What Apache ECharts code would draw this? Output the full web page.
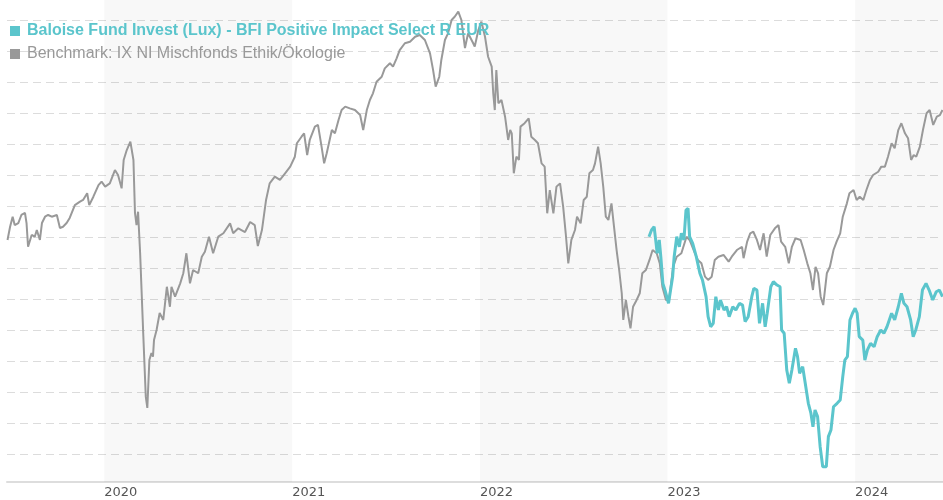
<!DOCTYPE html>
<html>
<head>
<meta charset="utf-8">
<script src="https://cdn.jsdelivr.net/npm/echarts@6/dist/echarts.min.js"></script>
<style>
  html, body { margin: 0; padding: 0; background: #fff; }
  #chart { width: 943px; height: 500px; }
</style>
</head>
<body>
<div id="chart"></div>
<script>
// Fondsvergleich: Fonds vs. Benchmark (indexiert)
var fundName = 'Baloise Fund Invest (Lux) - BFI Positive Impact Select R EUR';
var benchName = 'Benchmark: IX NI Mischfonds Ethik/Ökologie';

var benchDates = [
    '2019-06-27', '2019-07-02', '2019-07-07', '2019-07-11', '2019-07-18', '2019-07-24', '2019-07-31', '2019-08-03', '2019-08-06', '2019-08-13',
    '2019-08-19', '2019-08-23', '2019-08-29', '2019-09-02', '2019-09-08', '2019-09-14', '2019-09-21', '2019-10-01', '2019-10-07', '2019-10-13',
    '2019-10-20', '2019-10-26', '2019-11-05', '2019-11-15', '2019-11-21', '2019-11-29', '2019-12-03', '2019-12-11', '2019-12-21', '2019-12-27',
    '2020-01-03', '2020-01-12', '2020-01-22', '2020-01-28', '2020-02-04', '2020-02-08', '2020-02-14', '2020-02-21', '2020-02-27', '2020-03-01',
    '2020-03-04', '2020-03-07', '2020-03-11', '2020-03-17', '2020-03-22', '2020-03-25', '2020-03-29', '2020-04-02', '2020-04-05', '2020-04-07',
    '2020-04-12', '2020-04-18', '2020-04-25', '2020-05-02', '2020-05-08', '2020-05-11', '2020-05-18', '2020-05-28', '2020-06-03', '2020-06-09',
    '2020-06-16', '2020-06-22', '2020-07-02', '2020-07-09', '2020-07-15', '2020-07-23', '2020-07-31', '2020-08-10', '2020-08-20', '2020-09-02',
    '2020-09-08', '2020-09-18', '2020-10-01', '2020-10-11', '2020-10-20', '2020-10-26', '2020-11-03', '2020-11-11', '2020-11-18', '2020-11-28',
    '2020-12-08', '2020-12-18', '2020-12-28',
    '2021-01-06', '2021-01-10', '2021-01-19', '2021-01-24', '2021-01-30', '2021-02-04', '2021-02-14', '2021-02-20', '2021-02-27', '2021-03-04',
    '2021-03-09', '2021-03-19', '2021-03-25', '2021-04-01', '2021-04-07', '2021-04-14', '2021-04-23', '2021-05-03', '2021-05-13', '2021-05-19',
    '2021-05-26', '2021-06-01', '2021-06-07', '2021-06-14', '2021-06-24', '2021-06-30', '2021-07-10', '2021-07-16', '2021-07-23', '2021-07-29',
    '2021-08-08', '2021-08-18', '2021-08-28', '2021-09-06', '2021-09-16', '2021-09-26', '2021-10-02', '2021-10-07', '2021-10-14', '2021-10-18',
    '2021-10-25', '2021-10-31', '2021-11-07', '2021-11-13', '2021-11-20', '2021-11-26', '2021-12-03', '2021-12-09', '2021-12-19', '2021-12-22',
    '2021-12-29',
    '2022-01-04', '2022-01-11', '2022-01-17', '2022-01-24', '2022-01-27', '2022-01-30', '2022-02-02', '2022-02-06', '2022-02-12', '2022-02-19',
    '2022-02-25', '2022-03-01', '2022-03-04', '2022-03-08', '2022-03-13', '2022-03-18', '2022-03-21', '2022-03-29', '2022-04-06', '2022-04-11',
    '2022-04-18', '2022-04-24', '2022-05-01', '2022-05-07', '2022-05-12', '2022-05-17', '2022-05-24', '2022-05-30', '2022-06-06', '2022-06-12',
    '2022-06-17', '2022-06-22', '2022-06-28', '2022-07-05', '2022-07-09', '2022-07-16', '2022-07-22', '2022-07-28', '2022-08-02', '2022-08-09',
    '2022-08-13', '2022-08-19', '2022-08-24', '2022-08-29', '2022-09-03', '2022-09-08', '2022-09-14', '2022-09-19', '2022-09-24', '2022-09-29',
    '2022-10-04', '2022-10-07', '2022-10-12', '2022-10-17', '2022-10-21', '2022-10-26', '2022-11-02', '2022-11-08', '2022-11-13', '2022-11-20',
    '2022-11-27', '2022-12-03', '2022-12-11', '2022-12-17', '2022-12-22', '2022-12-29',
    '2023-01-04', '2023-01-12', '2023-01-19', '2023-01-28', '2023-02-07', '2023-02-13', '2023-02-23', '2023-03-01', '2023-03-08', '2023-03-15',
    '2023-03-21', '2023-03-28', '2023-04-03', '2023-04-10', '2023-04-20', '2023-04-30', '2023-05-06', '2023-05-16', '2023-05-26', '2023-05-29',
    '2023-06-05', '2023-06-11', '2023-06-17', '2023-06-24', '2023-06-30', '2023-07-07', '2023-07-13', '2023-07-20', '2023-07-29', '2023-08-05',
    '2023-08-10', '2023-08-18', '2023-08-25', '2023-08-31', '2023-09-07', '2023-09-17', '2023-09-23', '2023-09-30', '2023-10-06', '2023-10-11',
    '2023-10-16', '2023-10-21', '2023-10-26', '2023-10-31', '2023-11-07', '2023-11-13', '2023-11-20', '2023-11-26', '2023-12-03', '2023-12-08',
    '2023-12-16', '2023-12-21', '2023-12-29',
    '2024-01-04', '2024-01-10', '2024-01-17', '2024-01-23', '2024-01-30', '2024-02-05', '2024-02-15', '2024-02-21', '2024-02-28', '2024-03-05',
    '2024-03-12', '2024-03-18', '2024-03-25', '2024-03-31', '2024-04-07', '2024-04-13', '2024-04-19', '2024-04-24', '2024-04-29', '2024-05-06',
    '2024-05-12', '2024-05-19', '2024-05-25', '2024-06-01', '2024-06-08', '2024-06-14', '2024-06-19'
];

var benchValues = [
    99.81, 100.66, 101.31, 100.77, 100.90, 101.42, 101.55, 100.90, 99.37, 100.13,
    100.02, 100.45, 99.81, 100.90, 101.31, 101.42, 101.31, 101.42, 100.58, 100.66,
    100.90, 101.23, 102.06, 102.28, 102.39, 102.82, 102.06, 102.60, 103.35, 103.57,
    103.25, 103.46, 104.32, 104.00, 103.14, 104.97, 105.61, 106.15, 104.97, 101.55,
    100.77, 101.63, 98.97, 93.81, 89.70, 88.97, 92.06, 92.52, 92.28, 93.35,
    94.00, 95.10, 94.65, 96.79, 95.50, 96.79, 96.15, 97.01, 97.66, 98.95,
    97.01, 97.87, 97.66, 98.73, 99.05, 100.02, 98.95, 100.02, 100.24, 100.88,
    100.24, 100.56, 100.32, 100.97, 100.77, 99.42, 100.45, 102.39, 103.46, 103.89,
    103.68, 104.11, 104.54,
    105.18, 106.05, 106.47, 106.69, 105.29, 106.26, 107.12, 107.23, 105.83, 104.75,
    105.40, 106.90, 106.69, 107.55, 108.19, 108.41, 108.30, 108.19, 107.87, 106.90,
    108.19, 108.84, 109.27, 110.02, 110.34, 110.88, 111.21, 110.99, 111.53, 112.06,
    112.50, 112.60, 112.92, 113.03, 112.71, 111.85, 110.77, 109.70, 110.34, 111.42,
    112.71, 113.14, 114.00, 114.21, 114.54, 114.00, 112.19, 113.14, 112.50, 112.28,
    113.35,
    113.89, 112.92, 111.63, 110.99, 109.27, 108.19, 110.77, 108.63, 108.84, 107.76,
    106.26, 106.90, 106.69, 104.11, 105.18, 104.97, 107.12, 107.34, 107.66, 106.47,
    106.26, 106.05, 104.75, 104.54, 101.53, 103.03, 101.53, 103.25, 103.46, 101.96,
    100.24, 98.30, 99.81, 100.45, 101.31, 100.88, 102.39, 102.60, 104.11, 104.32,
    104.75, 105.83, 104.75, 103.25, 101.31, 101.10, 102.17, 100.66, 99.16, 97.87,
    96.37, 94.65, 95.94, 94.86, 94.11, 95.50, 95.94, 96.37, 97.66, 97.87,
    98.52, 99.16, 98.95, 98.30, 96.79, 95.94,
    95.94, 98.08, 98.73, 98.95, 100.02, 99.81, 98.97, 98.52, 98.30, 97.44,
    97.23, 97.44, 98.52, 98.73, 98.84, 98.41, 98.73, 99.16, 99.37, 98.63,
    99.70, 100.24, 100.34, 99.81, 99.16, 100.24, 98.73, 100.13, 100.56, 100.77,
    99.70, 99.37, 98.30, 99.37, 99.92, 99.81, 99.16, 98.30, 97.66, 96.58,
    98.08, 97.66, 96.15, 95.61, 97.66, 98.08, 99.16, 99.70, 100.24, 101.31,
    102.17, 102.82, 103.03,
    102.39, 102.60, 102.39, 103.03, 103.68, 104.00, 104.21, 104.54, 104.54, 105.18,
    106.05, 105.72, 106.90, 107.34, 106.69, 106.37, 104.97, 105.29, 105.18, 105.83,
    106.90, 107.98, 108.19, 107.23, 107.76, 107.87, 108.19
];

var fundDates = [
    '2022-11-26', '2022-12-01', '2022-12-06', '2022-12-09', '2022-12-12', '2022-12-16', '2022-12-19', '2022-12-23', '2022-12-27',
    '2023-01-03', '2023-01-07', '2023-01-11', '2023-01-14', '2023-01-19', '2023-01-24', '2023-01-28', '2023-02-02', '2023-02-06', '2023-02-10',
    '2023-02-13', '2023-02-19', '2023-02-26', '2023-03-05', '2023-03-10', '2023-03-17', '2023-03-21', '2023-03-26', '2023-03-31', '2023-04-05',
    '2023-04-10', '2023-04-14', '2023-04-21', '2023-04-26', '2023-05-01', '2023-05-08', '2023-05-14', '2023-05-21', '2023-05-27', '2023-06-01',
    '2023-06-07', '2023-06-14', '2023-06-18', '2023-06-24', '2023-06-29', '2023-07-05', '2023-07-10', '2023-07-14', '2023-07-21', '2023-07-26',
    '2023-08-02', '2023-08-08', '2023-08-11', '2023-08-16', '2023-08-21', '2023-08-26', '2023-08-31', '2023-09-07', '2023-09-11', '2023-09-15',
    '2023-09-21', '2023-09-26', '2023-10-02', '2023-10-07', '2023-10-11', '2023-10-15', '2023-10-20', '2023-10-25', '2023-10-30', '2023-11-06',
    '2023-11-10', '2023-11-15', '2023-11-20', '2023-11-27', '2023-12-03', '2023-12-08', '2023-12-12', '2023-12-17', '2023-12-22', '2023-12-27',
    '2024-01-01', '2024-01-05', '2024-01-09', '2024-01-16', '2024-01-20', '2024-01-25', '2024-01-31', '2024-02-07', '2024-02-13', '2024-02-20',
    '2024-02-26', '2024-03-03', '2024-03-12', '2024-03-18', '2024-03-25', '2024-03-31', '2024-04-05', '2024-04-11', '2024-04-18', '2024-04-23',
    '2024-04-28', '2024-05-05', '2024-05-11', '2024-05-18', '2024-05-24', '2024-05-31', '2024-06-07', '2024-06-13', '2024-06-19'
];

var fundValues = [
    100.02, 100.45, 100.66, 99.81, 98.95, 99.81, 98.73, 97.01, 96.58,
    95.72, 96.58, 97.44, 98.73, 100.02, 99.37, 100.24, 99.81, 101.74, 101.85,
    100.02, 99.59, 98.73, 97.66, 97.23, 96.15, 94.86, 94.21, 94.43, 96.15,
    95.29, 95.94, 95.29, 95.50, 94.86, 95.50, 95.29, 95.72, 95.61, 94.54,
    94.86, 96.15, 96.69, 96.58, 94.43, 95.72, 94.21, 95.08, 96.79, 97.12,
    96.90, 96.79, 94.00, 93.79, 91.42, 90.56, 91.42, 92.82, 92.28, 91.21,
    91.63, 90.56, 89.27, 88.63, 87.76, 88.84, 88.41, 86.47, 85.18, 85.18,
    87.12, 87.55, 89.05, 89.27, 89.48, 90.99, 92.06, 92.28, 94.65, 95.08,
    95.40, 95.08, 93.57, 93.35, 92.06, 92.71, 93.14, 92.92, 93.57, 94.00,
    93.79, 94.21, 95.08, 94.65, 95.50, 96.37, 95.72, 95.50, 94.65, 93.57,
    94.00, 94.86, 96.58, 97.01, 96.58, 95.94, 96.47, 96.58, 96.15
];

// Jahre mit grauem Hintergrund
var shadedYears = [2020, 2022, 2024];
var axisStart = '2019-06-26';
var axisEnd = '2024-06-20';

(function () {
    var chartDom = document.getElementById('chart');
    var myChart = echarts.init(chartDom, null, { renderer: 'canvas' });
    var option;

    var fundColor = '#5bc5cc';
    var benchColor = '#999999';

    var bands = shadedYears.map(function (y) {
        var end = (y + 1) + '-01-01';
        if (end > axisEnd) end = axisEnd;
        return [{ xAxis: y + '-01-01' }, { xAxis: end }];
    });

    option = {
        animation: false,
        legend: {
            orient: 'vertical',
            left: 5,
            top: 18,
            itemWidth: 10,
            itemHeight: 10,
            itemGap: 7,
            icon: 'rect',
            selectedMode: false,
            textStyle: {
                fontFamily: 'Liberation Sans, Arial, sans-serif',
                fontSize: 16,
                padding: [0, 0, 0, 2]
            },
            data: [
                { name: fundName, textStyle: { color: fundColor, fontWeight: 'bold' } },
                { name: benchName, textStyle: { color: benchColor } }
            ]
        },
        grid: [
            // Linien + Hilfslinien
            { left: 7, right: 0, top: 20, bottom: 46 },
            // Hintergrund-Bänder + Jahresachse
            { left: 7, right: 0, top: 0, bottom: 18 }
        ],
        xAxis: [
            {
                type: 'time',
                gridIndex: 0,
                min: axisStart,
                max: axisEnd,
                show: false
            },
            {
                type: 'time',
                gridIndex: 1,
                min: axisStart,
                max: axisEnd,
                minInterval: 365 * 24 * 3600 * 1000,
                axisLine: {
                    lineStyle: { color: '#dddddd', width: 2 }
                },
                axisTick: { show: false },
                splitLine: { show: false },
                axisLabel: {
                    color: '#555555',
                    fontFamily: 'DejaVu Sans, sans-serif',
                    fontSize: 13,
                    align: 'left',
                    margin: 4,
                    showMinLabel: false,
                    showMaxLabel: false,
                    formatter: '{yyyy}'
                }
            }
        ],
        yAxis: [
            {
                type: 'value',
                gridIndex: 0,
                min: 86,
                max: 114,
                interval: 2,
                axisLine: { show: false },
                axisTick: { show: false },
                axisLabel: { show: false },
                splitLine: {
                    lineStyle: { color: '#dcdcdc', type: [8, 5], width: 1 }
                }
            },
            {
                type: 'value',
                gridIndex: 1,
                min: 0,
                max: 1,
                show: false,
                splitLine: { show: false }
            }
        ],
        series: [
            {
                name: fundName,
                type: 'line',
                xAxisIndex: 0,
                yAxisIndex: 0,
                z: 4,
                clip: false,
                showSymbol: false,
                color: fundColor,
                lineStyle: { color: fundColor, width: 3 },
                data: fundDates.map(function (d, i) { return [d, fundValues[i]]; })
            },
            {
                name: benchName,
                type: 'line',
                xAxisIndex: 0,
                yAxisIndex: 0,
                z: 3,
                clip: false,
                showSymbol: false,
                color: benchColor,
                lineStyle: { color: benchColor, width: 2 },
                data: benchDates.map(function (d, i) { return [d, benchValues[i]]; })
            },
            {
                name: 'bands',
                type: 'line',
                xAxisIndex: 1,
                yAxisIndex: 1,
                z: 1,
                silent: true,
                data: [],
                markArea: {
                    silent: true,
                    itemStyle: { color: 'rgba(0, 0, 0, 0.026)' },
                    data: bands
                }
            }
        ]
    };

    option && myChart.setOption(option);
})();
</script>
</body>
</html>
